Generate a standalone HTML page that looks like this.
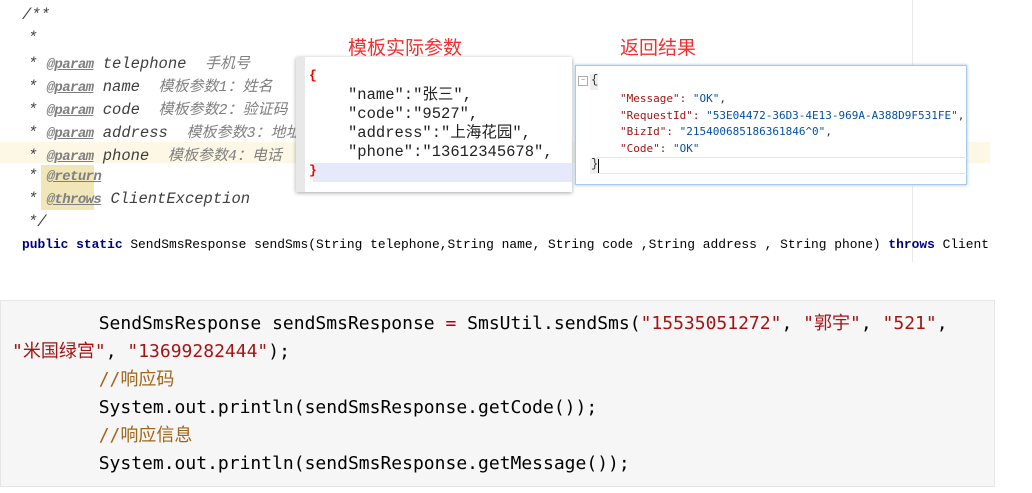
<!DOCTYPE html>
<html><head><meta charset="utf-8"><style>
body{margin:0;width:1032px;height:493px;background:#fff;position:relative;overflow:hidden;font-family:"Liberation Mono","Noto Sans CJK SC",monospace;}
.a{position:absolute;white-space:pre;}
.c{font-family:"Liberation Mono","Noto Sans CJK SC",monospace;font-style:italic;font-size:15.5px;color:#3f3f3f;}
.t{text-decoration:underline;font-weight:bold;color:#7f7f7f;font-size:14px;letter-spacing:-0.6px}
.g{color:#808080;font-size:15px}
</style></head><body>
<div class="a" style="left:0;top:142px;width:990px;height:21px;background:#fdf8e6"></div>
<div class="a" style="left:912px;top:0;width:1px;height:262px;background:#e8e8e8"></div>
<div class="a" style="left:41px;top:165px;width:53px;height:45px;background:#f0e6b8"></div>
<div class="a c" style="left:22px;top:6px">/**</div>
<div class="a c" style="left:28px;top:29px">*</div>
<div class="a c" style="left:28px;top:52px">* <span class="t">@param</span> telephone  <span class="g">手机号</span></div>
<div class="a c" style="left:28px;top:75px">* <span class="t">@param</span> name  <span class="g">模板参数1：姓名</span></div>
<div class="a c" style="left:28px;top:98px">* <span class="t">@param</span> code  <span class="g">模板参数2：验证码</span></div>
<div class="a c" style="left:28px;top:121px">* <span class="t">@param</span> address  <span class="g">模板参数3：地址</span></div>
<div class="a c" style="left:28px;top:144px">* <span class="t">@param</span> phone  <span class="g">模板参数4：电话</span></div>
<div class="a c" style="left:28px;top:167px">* <span class="t">@return</span></div>
<div class="a c" style="left:28px;top:190px">* <span class="t">@throws</span> ClientException</div>
<div class="a c" style="left:28px;top:213px">*/</div>
<div class="a" style="left:22px;top:237px;font-size:12.9px;color:#000"><b style="color:#000080">public static</b> SendSmsResponse sendSms(String telephone,String name, String code ,String address , String phone) <b style="color:#000080">throws</b> Client</div>

<div class="a" style="left:348px;top:33px;font-family:'Noto Sans CJK SC',sans-serif;font-size:19px;color:#f03030">模板实际参数</div>
<div class="a" style="left:620px;top:33px;font-family:'Noto Sans CJK SC',sans-serif;font-size:19px;color:#f03030">返回结果</div>

<div class="a" style="left:296px;top:57px;width:276px;height:135px;background:#fff;box-shadow:0 1px 4px rgba(0,0,0,.35)">
<div class="a" style="left:0;top:0;width:9px;height:135px;background:#e8e8e8"></div>
<div class="a" style="left:17px;top:106px;width:259px;height:19px;background:#e6e8fb"></div>
<div class="a" style="left:13px;top:11px;font-size:13px;color:#e00;font-weight:bold">{</div>
<div class="a" style="left:52px;top:29px;font-size:15.5px;line-height:19px;color:#222">"name":"张三",
"code":"9527",
"address":"上海花园",
"phone":"13612345678",</div>
<div class="a" style="left:13px;top:106px;font-size:13px;color:#e00;font-weight:bold">}</div>
</div>

<div class="a" style="left:575px;top:65px;width:392px;height:120px;background:#fff;border:1px solid #a8c8f0;box-shadow:0 0 3px #9cc0f0;box-sizing:border-box">
<div class="a" style="left:2px;top:10px;width:8px;height:8px;border:1px solid #aaa;font-size:7px;line-height:8px;text-align:center;color:#777">−</div>
<div class="a" style="left:14px;top:8px;width:8px;height:16px;background:#eee"></div>
<div class="a" style="left:15px;top:7px;font-size:12px;color:#333">{</div>
<div class="a" style="left:44px;top:25px;font-family:'DejaVu Sans Mono',monospace;font-size:11px;line-height:16.5px;color:#a31515">"Message": <span style="color:#0451a5">"OK"</span><span style="color:#333">,</span>
"RequestId": <span style="color:#0451a5">"53E04472-36D3-4E13-969A-A388D9F531FE"</span><span style="color:#333">,</span>
"BizId": <span style="color:#0451a5">"215400685186361846^0"</span><span style="color:#333">,</span>
"Code": <span style="color:#0451a5">"OK"</span></div>
<div class="a" style="left:20px;top:91px;width:372px;height:1px;background:#e4e4e4"></div>
<div class="a" style="left:20px;top:107px;width:372px;height:1px;background:#e4e4e4"></div>
<div class="a" style="left:14px;top:92px;width:8px;height:16px;background:#eee"></div>
<div class="a" style="left:15px;top:91px;font-size:12px;color:#333">}</div>
<div class="a" style="left:22px;top:93px;width:1px;height:14px;background:#000"></div>
</div>

<div class="a" style="left:0;top:300px;width:995px;height:187px;background:#f6f6f6;border:1px solid #e6e6e6;box-sizing:border-box"></div>
<div class="a" style="left:12px;top:310px;font-family:'DejaVu Sans Mono','Noto Sans CJK SC',monospace;font-size:18px;line-height:28px;color:#000">        SendSmsResponse sendSmsResponse <span style="color:#a00">=</span> SmsUtil.sendSms(<span style="color:#a31515">"15535051272"</span>, <span style="color:#a31515">"郭宇"</span>, <span style="color:#a31515">"521"</span>,
<span style="color:#a31515">"米国绿宫"</span>, <span style="color:#a31515">"13699282444"</span>);
        <span style="color:#a0661a">//响应码</span>
        System.out.println(sendSmsResponse.getCode());
        <span style="color:#a0661a">//响应信息</span>
        System.out.println(sendSmsResponse.getMessage());</div>
</body></html>
